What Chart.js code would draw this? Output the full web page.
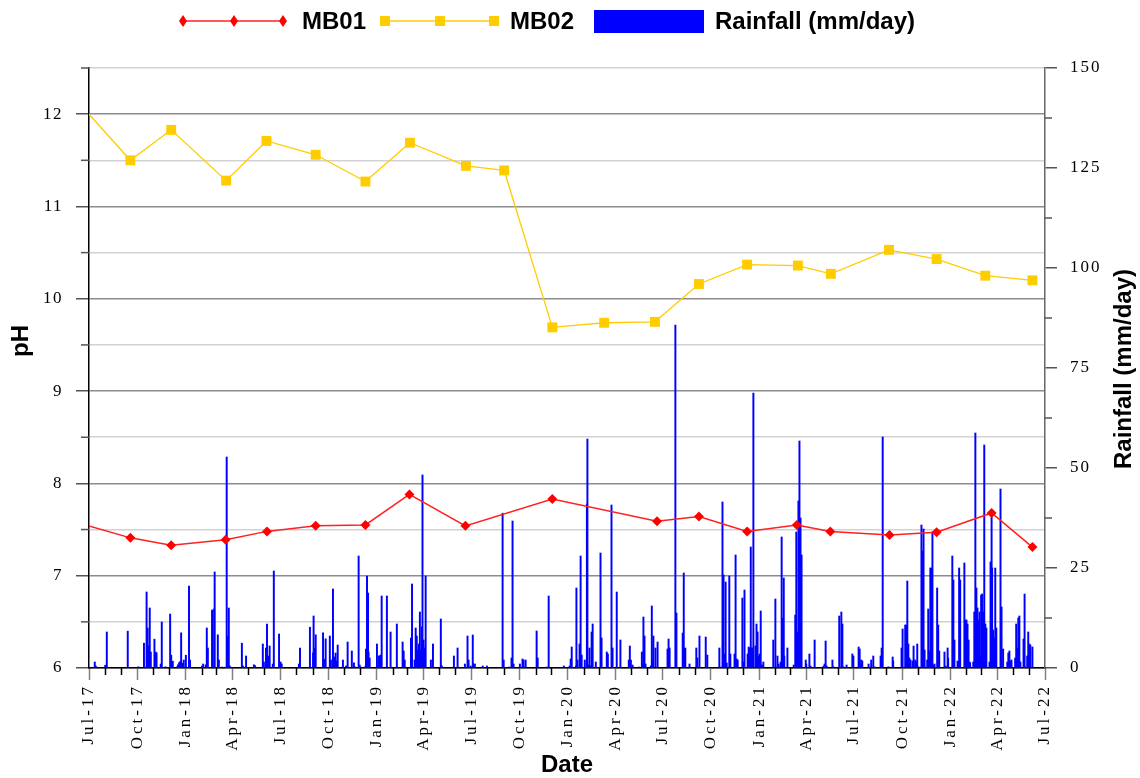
<!DOCTYPE html>
<html>
<head>
<meta charset="utf-8">
<script src="https://cdn.jsdelivr.net/npm/chart.js@4.4.1/dist/chart.umd.min.js"></script>
<style>
  html, body { margin: 0; padding: 0; background: #fff; }
  #wrap { width: 1140px; height: 778px; }
</style>
</head>
<body>
<div id="wrap"><canvas id="chart" width="1140" height="778"></canvas></div>
<script>
const startDate = '2017-07-01';
const endDate = '2022-07-01';
const monthNames = ['Jan','Feb','Mar','Apr','May','Jun','Jul','Aug','Sep','Oct','Nov','Dec'];

const mb01Dates = ['2017-07-01','2017-09-18','2017-12-05','2018-03-19','2018-06-06','2018-09-07','2018-12-11',
  '2019-03-05','2019-06-20','2019-12-03','2020-06-20','2020-09-08','2020-12-09','2021-03-14','2021-05-17',
  '2021-09-07','2021-12-06','2022-03-21','2022-06-07'];
const mb01pH = [7.54, 7.41, 7.33, 7.39, 7.48, 7.54, 7.55, 7.88, 7.54, 7.83, 7.59, 7.64, 7.48, 7.55, 7.48,
  7.44, 7.47, 7.68, 7.31];

const mb02Dates = ['2017-07-01','2017-09-18','2017-12-05','2018-03-20','2018-06-05','2018-09-07','2018-12-11',
  '2019-03-06','2019-06-21','2019-09-02','2019-12-03','2020-03-11','2020-06-16','2020-09-08','2020-12-09',
  '2021-03-16','2021-05-18','2021-09-06','2021-12-06','2022-03-09','2022-06-07'];
const mb02pH = [12.0, 11.50, 11.83, 11.28, 11.71, 11.56, 11.27, 11.69, 11.44, 11.39, 9.69, 9.74, 9.75, 10.16,
  10.37, 10.36, 10.27, 10.53, 10.43, 10.25, 10.20];

// rainfall: days counted from 1 Jul 2017, and mm/day
const rainDay = [
  11,13,31,34,74,94,105,110,112,114,
  116,118,125,127,129,137,139,146,155,157,
  160,168,170,172,174,176,178,181,185,191,
  193,216,218,223,225,227,235,239,240,246,
  248,254,260,263,265,267,269,292,294,300,
  315,317,332,334,338,340,342,344,345,351,
  353,363,366,368,401,403,422,428,429,431,
  433,447,450,452,460,462,466,468,470,471,
  473,475,485,491,494,502,506,508,515,517,
  519,527,529,531,533,534,536,550,554,555,
  557,559,569,576,588,599,601,603,615,617,
  622,624,626,628,630,632,634,636,637,639,
  641,643,653,657,672,674,697,704,718,723,
  725,729,733,735,737,752,760,790,792,802,
  807,809,811,823,828,830,834,855,857,874,
  878,907,918,920,922,930,931,933,937,939,
  941,947,951,952,954,956,958,960,962,968,
  977,979,989,991,998,1000,1008,1015,1031,1033,
  1035,1038,1040,1050,1056,1057,1059,1061,1063,1073,
  1075,1076,1078,1082,1086,1105,1107,1109,1120,1122,
  1134,1136,1138,1139,1147,1160,1162,1166,1178,1181,
  1204,1206,1210,1212,1214,1216,1218,1223,1225,1233,
  1235,1237,1239,1248,1250,1252,1258,1260,1262,1264,
  1265,1267,1269,1273,1275,1277,1279,1281,1283,1285,
  1286,1288,1307,1311,1315,1317,1321,1323,1325,1327,
  1328,1334,1346,1349,1351,1353,1355,1357,1359,1361,
  1369,1370,1376,1378,1386,1403,1405,1407,1409,1420,
  1422,1433,1437,1439,1441,1447,1458,1460,1470,1472,
  1474,1475,1477,1489,1494,1498,1500,1512,1514,1516,
  1527,1535,1536,1552,1554,1559,1561,1563,1565,1567,
  1569,1573,1575,1578,1580,1582,1584,1590,1592,1594,
  1596,1601,1603,1605,1607,1609,1611,1613,1615,1620,
  1622,1624,1634,1636,1640,1641,1649,1651,1653,1659,
  1661,1662,1664,1672,1674,1676,1678,1680,1682,1683,
  1689,1691,1693,1695,1697,1699,1701,1703,1704,1706,
  1708,1710,1712,1714,1720,1722,1724,1725,1727,1729,
  1731,1733,1741,1743,1746,1754,1756,1758,1760,1762,
  1769,1771,1773,1775,1777,1779,1785,1787,1788,1792,
  1794,1796,1798,1802
];
const rainMm = [
  1.5,0.5,0.7,9,9.2,0.3,6.2,19,10,5.5,
  15,4,7.2,4,3.8,1,11.5,0.3,13.5,3.2,
  1.7,0.3,0.8,1.3,1.6,8.8,1.2,2,3.2,20.5,
  2,0.5,1,0.8,10,5,14.5,14.8,24,8.3,
  2,0.2,0.2,52.75,8,15,0.5,6.2,0.5,3,
  0.8,0.6,6,1.5,5,11,3,2,5.5,1,
  24.25,8.5,1.5,1,1,5,10.2,3.8,13,5,
  8.3,8.8,2.2,7.3,8,2,19.75,2.75,2.2,3.75,
  1.75,5.75,2,0.5,6.5,4.25,1.3,0.3,28,0.75,
  0.25,0.3,4.75,23,18.75,4,2.5,6,3,3,
  3.25,18,18,9,11,6.5,4.25,2,7.5,21,
  2,10,8,4.5,6,14,4.5,10.25,48.25,7,
  5,23,2,6,12.25,0.5,3,5,1,8,
  2,0.5,8.25,1,1,0.5,0.5,38.7,2,0.25,
  2.5,36.75,1,1,2.25,2,2,9.25,2.5,0.25,
  18,0.5,0.5,2.25,5.25,0.5,20,2,6,28,
  3.25,2,41,57.25,0.75,5,0.5,9,11,1.5,
  28.75,7.5,4,3.5,40.75,5,19,7,2,5.5,
  2,0.75,0.25,0.25,4,1,12.75,8,1,0.5,
  15.5,2,8,5,6.5,4.75,7.25,5,85.75,13.75,
  8.75,23.75,4.75,5,1,5,2.5,8,7.75,3.25,
  5,0.25,41.5,23.25,3.5,21.5,1.25,23,3.5,3.5,
  28.25,2.25,2,17.5,1.5,19.5,3.5,5.25,5,30.25,
  5,5,68.75,5.5,11,9,3,3.5,14.25,0.75,
  0.5,1.5,7,17.25,3,1,1.5,32.75,12.5,22.5,
  3,5,0.75,13.25,34,9,41.75,56.75,37.5,28.25,
  2,1,3.5,0.5,7,0.5,1,6.75,0.5,2,
  0.3,13,14,11,0.3,0.75,3.5,3,5.25,4.75,
  1,2,1.75,1,2,3,0.3,3,5,57.75,
  0.3,2.75,1.75,5,9.75,10.75,10.75,21.75,6,2.5,
  2,1.75,5.5,2,1.5,6,0.3,35.75,29.25,34.75,
  4.5,2,14.75,4.25,25,25,34,0.75,1,20,
  10.75,4.25,4,0.5,5,2.5,28,22,7,1.75,
  1.5,25,22,26.25,12,12,11,7,1.5,1.25,
  1.5,14,58.75,20,15,12,14,3,18.25,18.5,
  14,55.75,11,10,1.5,26.5,38.5,25,9.5,7.5,
  25,10,44.75,15.25,4.75,1.5,3.75,4.25,1.75,2,
  2.5,11,5,12.5,13,1.5,7.25,18.5,0.3,3,
  9,6,5.75,5.25
];

const DAY = 86400000;
function dayOf(s) {
  const [y, m, d] = s.split('-').map(Number);
  const [y0, m0, d0] = startDate.split('-').map(Number);
  return (Date.UTC(y, m - 1, d) - Date.UTC(y0, m0 - 1, d0)) / DAY;
}
const xMax = dayOf(endDate);

// month ticks along the date axis
const monthTicks = [];
for (let i = 0; ; i++) {
  const dt = new Date(Date.UTC(2017, 6 + i, 1));
  const v = dayOf(dt.toISOString().slice(0, 10));
  if (v > xMax) break;
  monthTicks.push({ value: v, month: dt.getUTCMonth(), year: dt.getUTCFullYear() });
}
const isQuarter = i => monthTicks[i] && monthTicks[i].month % 3 === 0;

const serif = "'Liberation Serif', 'Times New Roman', serif";
const sans = "'Liberation Sans', Arial, sans-serif";
const labelSpacing = { x: '3px', y: '1.5px', y1: '2px' };

const decor = {
  id: 'decor',
  beforeDraw(chart) {
    // widen the tick labels a little, like the original
    Object.keys(labelSpacing).forEach(id => {
      const s = chart.scales[id];
      if (!s || s._spaced) return;
      const orig = s.drawLabels;
      s.drawLabels = function (area) {
        const c = this.ctx;
        c.save();
        c.letterSpacing = labelSpacing[id];
        orig.call(this, area);
        c.restore();
      };
      s._spaced = true;
    });
  },
  afterDraw(chart) {
    const ctx = chart.ctx;
    const ds = chart.data.datasets;
    const a = chart.chartArea;
    const sx = chart.scales.x, sy = chart.scales.y, sy1 = chart.scales.y1;
    ctx.save();

    // minor tick marks
    ctx.lineWidth = 1.5;
    ctx.strokeStyle = '#000';
    monthTicks.forEach((t, i) => {
      if (isQuarter(i)) return;
      const px = Math.round(sx.getPixelForValue(t.value)) + 0.5;
      ctx.beginPath(); ctx.moveTo(px, a.bottom); ctx.lineTo(px, a.bottom + 7); ctx.stroke();
    });
    ctx.strokeStyle = '#555';
    for (let v = 6.5; v < 12.6; v += 1) {
      const py = sy.getPixelForValue(v);
      ctx.beginPath(); ctx.moveTo(a.left - 8, py); ctx.lineTo(a.left, py); ctx.stroke();
    }
    for (let v = 12.5; v < 150; v += 25) {
      const py = sy1.getPixelForValue(v);
      ctx.beginPath(); ctx.moveTo(a.right, py); ctx.lineTo(a.right + 7, py); ctx.stroke();
    }

    ctx.fillStyle = '#000';
    ctx.font = 'bold 24px ' + sans;
    ctx.textBaseline = 'middle';
    ctx.textAlign = 'center';
    ctx.fillText('Date', (a.left + a.right) / 2, 765);

    ctx.save();
    ctx.translate(21, 341);
    ctx.rotate(-Math.PI / 2);
    ctx.fillText('pH', 0, 0);
    ctx.restore();

    ctx.save();
    ctx.translate(1124, 369);
    ctx.rotate(-Math.PI / 2);
    ctx.fillText('Rainfall (mm/day)', 0, 0);
    ctx.restore();

    // legend
    const ly = 21;
    ctx.textAlign = 'left';
    ctx.lineWidth = 1.3;
    ctx.strokeStyle = '#ff2020';
    ctx.beginPath(); ctx.moveTo(183, ly); ctx.lineTo(283, ly); ctx.stroke();
    ctx.fillStyle = '#ff0000';
    [183, 234, 283].forEach(x => {
      ctx.beginPath();
      ctx.moveTo(x, ly - 6); ctx.lineTo(x + 4, ly); ctx.lineTo(x, ly + 6); ctx.lineTo(x - 4, ly);
      ctx.closePath(); ctx.fill();
    });
    ctx.fillStyle = '#000';
    ctx.fillText(ds[0].label, 302, ly + 1);

    ctx.strokeStyle = '#ffcc00';
    ctx.beginPath(); ctx.moveTo(385, ly); ctx.lineTo(494, ly); ctx.stroke();
    ctx.fillStyle = '#ffcc00';
    [385, 440, 494].forEach(x => ctx.fillRect(x - 5, ly - 5, 10, 10));
    ctx.fillStyle = '#000';
    ctx.fillText(ds[1].label, 510, ly + 1);

    ctx.fillStyle = '#0000ff';
    ctx.fillRect(594, 10, 110, 23);
    ctx.fillStyle = '#000';
    ctx.fillText(ds[2].label, 715, ly + 1);
    ctx.restore();
  }
};

new Chart(document.getElementById('chart'), {
  type: 'bar',
  data: {
    datasets: [
      {
        type: 'line',
        label: 'MB01',
        data: mb01Dates.map((d, i) => ({ x: dayOf(d), y: mb01pH[i] })),
        yAxisID: 'y',
        borderColor: '#ff2020',
        backgroundColor: '#ff0000',
        borderWidth: 1.5,
        pointStyle: 'rectRot',
        pointRadius: c => c.dataIndex === 0 ? 0 : 5,
        pointBorderWidth: 0,
        tension: 0,
        order: 0
      },
      {
        type: 'line',
        label: 'MB02',
        data: mb02Dates.map((d, i) => ({ x: dayOf(d), y: mb02pH[i] })),
        yAxisID: 'y',
        borderColor: '#ffcc00',
        backgroundColor: '#ffcc00',
        borderWidth: 1.3,
        pointStyle: 'rect',
        pointRadius: c => c.dataIndex === 0 ? 0 : 7,
        pointBorderWidth: 0,
        tension: 0,
        order: 0
      },
      {
        type: 'bar',
        label: 'Rainfall (mm/day)',
        data: rainDay.map((d, i) => ({ x: d, y: rainMm[i] })),
        yAxisID: 'y1',
        backgroundColor: '#0000ff',
        barThickness: 1.3,
        order: 1
      }
    ]
  },
  options: {
    responsive: false,
    animation: false,
    layout: { padding: { top: 68, left: 0, right: 0, bottom: 0 } },
    plugins: {
      legend: { display: false },
      tooltip: { enabled: false }
    },
    scales: {
      x: {
        type: 'linear',
        min: 0,
        max: xMax,
        offset: false,
        afterBuildTicks: s => { s.ticks = monthTicks.map(t => ({ value: t.value })); },
        afterFit: s => { s.height = 110; },
        grid: {
          offset: false,
          drawOnChartArea: false,
          tickLength: 12,
          tickColor: c => isQuarter(c.index) ? '#808080' : 'rgba(0,0,0,0)',
          tickWidth: 1.5
        },
        border: { color: '#000', width: 1.5 },
        ticks: {
          autoSkip: false,
          maxRotation: 90,
          minRotation: 90,
          padding: 4,
          color: '#000',
          font: { family: serif, size: 17 },
          callback: (v, i) => {
            const t = monthTicks[i];
            return isQuarter(i) ? monthNames[t.month] + '-' + String(t.year).slice(2) : '';
          }
        }
      },
      y: {
        position: 'left',
        min: 6,
        max: 12.5,
        afterFit: s => { s.width = 89; },
        grid: {
          color: c => Number.isInteger(c.tick.value) ? '#8c8c8c' : '#d2d2d2',
          lineWidth: 1.5,
          tickLength: 13,
          tickColor: c => Number.isInteger(c.tick.value) ? '#555' : 'rgba(0,0,0,0)'
        },
        border: { color: '#000', width: 1.5 },
        ticks: {
          stepSize: 0.5,
          padding: 13,
          color: '#000',
          font: { family: serif, size: 17 },
          callback: v => Number.isInteger(v) ? v : ''
        }
      },
      y1: {
        position: 'right',
        min: 0,
        max: 150,
        afterFit: s => { s.width = 95; },
        grid: {
          drawOnChartArea: false,
          tickLength: 12,
          tickColor: c => c.tick.value % 25 === 0 ? '#555' : 'rgba(0,0,0,0)',
          lineWidth: 1.5
        },
        border: { color: '#666', width: 1.5 },
        ticks: {
          stepSize: 12.5,
          padding: 13,
          color: '#000',
          font: { family: serif, size: 17 },
          callback: v => v % 25 === 0 ? v : ''
        }
      }
    }
  },
  plugins: [decor]
});
</script>
</body>
</html>
